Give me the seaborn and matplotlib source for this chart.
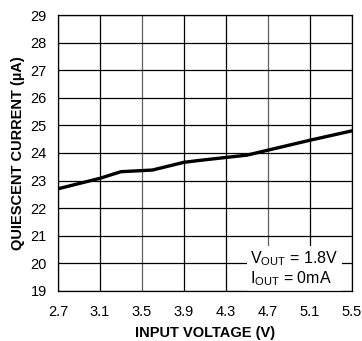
import numpy as np
import pandas as pd
import seaborn as sns
import matplotlib.pyplot as plt

# values
vin = [2.7, 3.1, 3.3, 3.6, 3.9, 4.05, 4.5, 4.7, 5.1, 5.5]
iq = [22.70, 23.08, 23.32, 23.38, 23.66, 23.73, 23.92, 24.10, 24.46, 24.80]
xticks = [2.7, 3.1, 3.5, 3.9, 4.3, 4.7, 5.1, 5.5]
yticks = list(range(19, 30))

df = pd.DataFrame({"vin": vin, "iq": iq})

sns.set_style("white")
plt.rcParams['font.family'] = ['Liberation Sans', 'DejaVu Sans']
plt.rcParams['mathtext.fontset'] = 'custom'
plt.rcParams['mathtext.rm'] = 'Liberation Sans'
plt.rcParams['text.color'] = 'black'
plt.rcParams['axes.labelcolor'] = 'black'
plt.rcParams['xtick.color'] = 'black'
plt.rcParams['ytick.color'] = 'black'

fig, ax = plt.subplots(figsize=(3.62, 3.41), dpi=100)
fig.subplots_adjust(left=0.16, right=0.972, top=0.956, bottom=0.147)

for x in xticks:
    col = "#606060" if x in (3.5, 4.7) else "black"
    ax.axvline(x, color=col, lw=0.9, zorder=1)
for y in yticks:
    ax.axhline(y, color="black", lw=0.9, zorder=1)

sns.lineplot(data=df, x="vin", y="iq", color="black", lw=2.4, ax=ax, zorder=3)

ax.set_xlim(2.7, 5.5)
ax.set_ylim(19, 29)
ax.set_xticks(xticks)
ax.set_xticklabels([f"{x:.1f}" for x in xticks])
ax.set_yticks(yticks)
ax.tick_params(axis="both", labelsize=10.5, length=0)
ax.tick_params(axis="x", pad=10)
ax.tick_params(axis="y", pad=8)
for s in ax.spines.values():
    s.set_color("black")
    s.set_linewidth(0.9)

ax.set_xlabel("INPUT VOLTAGE (V)", fontsize=10.5, fontweight="bold", labelpad=5)
ax.set_ylabel("QUIESCENT CURRENT (µA)", fontsize=10.5, fontweight="bold", labelpad=4)

ax.text(4.53, 19.12,
        "V$_{\\mathregular{OUT}}$ = 1.8V\nI$_{\\mathregular{OUT}}$ = 0mA",
        fontsize=11.5, ha="left", va="bottom", linespacing=1.05, zorder=2,
        bbox=dict(facecolor="white", edgecolor="none", pad=2.5))

fig.savefig("out.png", dpi=100)
